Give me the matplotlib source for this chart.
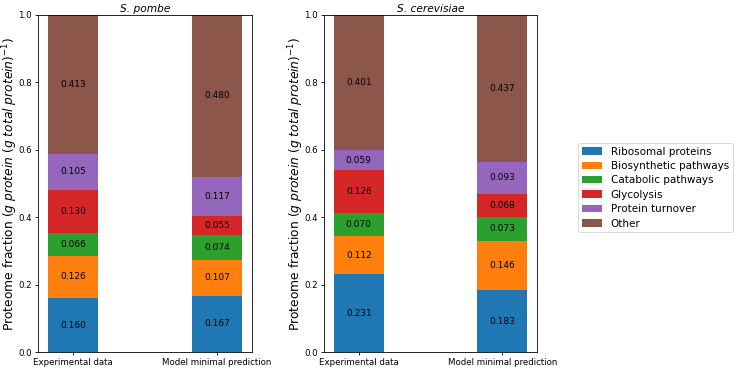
import matplotlib
matplotlib.use("Agg")
import matplotlib.pyplot as plt
import numpy as np

categories = ["Ribosomal proteins", "Biosynthetic pathways", "Catabolic pathways",
              "Glycolysis", "Protein turnover", "Other"]
conditions = ["Experimental data", "Model minimal prediction"]
titles = ["S. pombe", "S. cerevisiae"]
pombe_exp = [0.160, 0.126, 0.066, 0.130, 0.105, 0.413]
pombe_model = [0.167, 0.107, 0.074, 0.055, 0.117, 0.480]
cerev_exp = [0.231, 0.112, 0.070, 0.126, 0.059, 0.401]
cerev_model = [0.183, 0.146, 0.073, 0.068, 0.093, 0.437]

colors = ["#1f77b4", "#ff7f0e", "#2ca02c", "#d62728", "#9467bd", "#8c564b"]

fig = plt.figure(figsize=(7.4, 3.69), dpi=100)
ax1 = fig.add_axes([38/740, 1-352/369, 214/740, 337/369])
ax2 = fig.add_axes([324/740, 1-352/369, 213/740, 337/369])

datasets = [(pombe_exp, pombe_model), (cerev_exp, cerev_model)]
x = np.arange(len(conditions))
handles = []
for ax, (exp, mod), title in zip([ax1, ax2], datasets, titles):
    bottom = np.zeros(2)
    for i, cat in enumerate(categories):
        vals = np.array([exp[i], mod[i]])
        bars = ax.bar(x, vals, 0.35, bottom=bottom, color=colors[i], label=cat)
        ax.bar_label(bars, labels=[f"{v:.3f}" for v in vals], label_type="center", fontsize=6.5)
        bottom += vals
        if ax is ax1:
            handles.append(bars)
    ax.set_ylim(0, 1)
    ax.set_xticks(x)
    ax.set_xticklabels(conditions, fontsize=6.2)
    ax.tick_params(axis="both", labelsize=6.2, length=2.5, width=0.6, pad=1.8)
    for sp in ax.spines.values():
        sp.set_linewidth(0.6)
    ax.set_title(title, fontstyle="italic", fontsize=7.7, pad=2.5)
    ax.set_ylabel(r"Proteome fraction ($g\ protein\ (g\ total\ protein)^{-1}$)",
                  fontsize=8.8)
    ax.yaxis.set_label_coords(-0.085, 0.5)

leg = fig.legend(handles, categories, loc="upper left", bbox_to_anchor=(578/740, 1-143/369),
                 fontsize=7.5, frameon=True, labelspacing=0.42, borderpad=0.35,
                 handlelength=2.0, handletextpad=0.8, borderaxespad=0)
leg.get_frame().set_linewidth(0.6)
fig.savefig("out.png", dpi=100)
